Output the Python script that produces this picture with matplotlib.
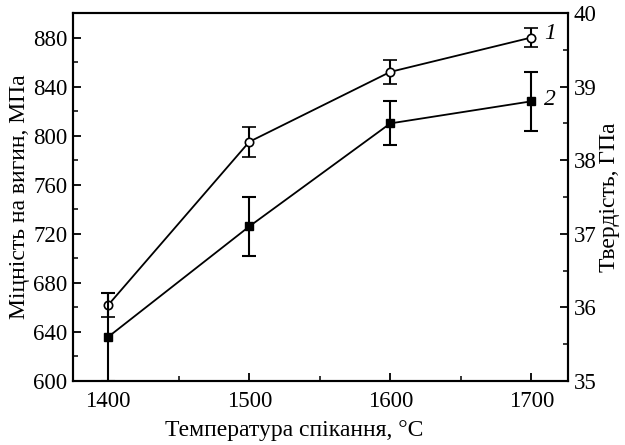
import matplotlib
matplotlib.use('Agg')
import matplotlib.pyplot as plt
from matplotlib.ticker import MultipleLocator

# temperature, C
temp = [1400, 1500, 1600, 1700]
# curve 1 - bending strength, MPa (left axis)
strength = [662, 795, 852, 880]
strength_err = [10, 12, 10, 8]
# curve 2 - hardness, GPa (right axis)
hardness = [35.6, 37.1, 38.5, 38.8]
hardness_err = [0.6, 0.4, 0.3, 0.4]

plt.rcParams['font.family'] = ['Liberation Serif', 'DejaVu Serif']
plt.rcParams['font.size'] = 16

fig = plt.figure(figsize=(6.25, 4.45), dpi=100)
ax = fig.add_axes([0.1168, 0.1438, 0.792, 0.827])
ax2 = ax.twinx()

ax.errorbar(temp, strength, yerr=strength_err, color='black', lw=1.3,
            marker='o', ms=6, mfc='white', mec='black', mew=1.2,
            capsize=5, elinewidth=1.5, capthick=1.5)
ax2.errorbar(temp, hardness, yerr=hardness_err, color='black', lw=1.3,
             marker='s', ms=6, mfc='black', mec='black',
             capsize=5, elinewidth=1.5, capthick=1.5)

ax.set_xlim(1375, 1726)
ax.set_ylim(600, 900)
ax2.set_ylim(35, 40)

ax.xaxis.set_major_locator(MultipleLocator(100))
ax.xaxis.set_minor_locator(MultipleLocator(50))
ax.yaxis.set_major_locator(MultipleLocator(40))
ax.yaxis.set_minor_locator(MultipleLocator(20))
ax2.yaxis.set_major_locator(MultipleLocator(1))
ax2.yaxis.set_minor_locator(MultipleLocator(0.5))

for a in (ax, ax2):
    for s in a.spines.values():
        s.set_linewidth(1.5)
    a.tick_params(which='major', direction='in', length=6, width=1.3, labelsize=16.5)
    a.tick_params(which='minor', direction='in', length=3.5, width=1.1)
ax.tick_params(axis='y', which='both', right=False, pad=4)
ax2.tick_params(axis='y', which='both', pad=4)
ax.tick_params(axis='x', which='both', top=False, pad=7)

ax.set_xlabel('Температура спікання, °C', fontsize=17)
ax.xaxis.set_label_coords(0.446, -0.105)
ax.set_ylabel('Міцність на вигин, МПа', fontsize=17, labelpad=2)
ax2.set_ylabel('Твердість, ГПа', fontsize=17, labelpad=2)

ax.text(temp[-1] + 9, strength[-1] + 3, '1', style='italic', fontsize=17, va='center')
ax2.text(temp[-1] + 9, hardness[-1] + 0.03, '2', style='italic', fontsize=17, va='center')

fig.savefig('out.png', dpi=100)
